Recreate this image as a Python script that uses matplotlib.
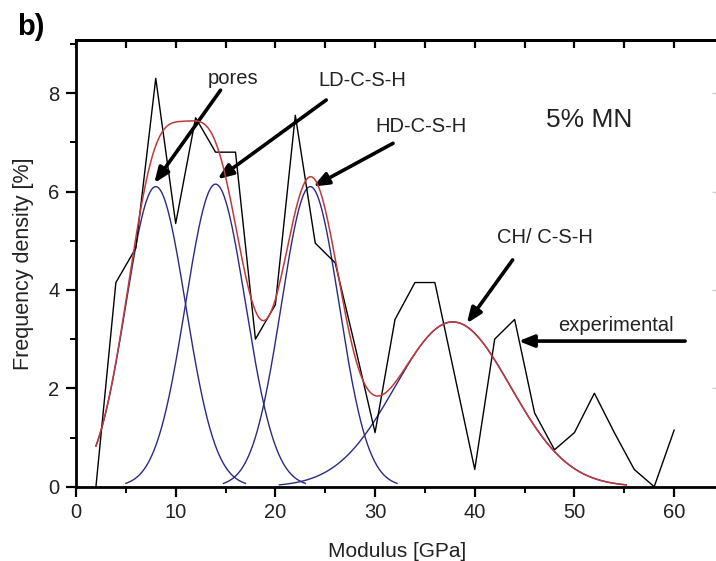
import numpy as np
import matplotlib
matplotlib.use("Agg")
import matplotlib.pyplot as plt
from matplotlib.ticker import MultipleLocator

plt.rcParams['font.family'] = ['Liberation Sans', 'DejaVu Sans']

# Experimental frequency density (black polyline)
modulus_exp = [2, 4, 6, 8, 10, 12, 14, 16, 18, 20, 22, 24, 26, 28, 30,
               32, 34, 36, 38, 40, 42, 44, 46, 48, 50, 52, 54, 56, 58, 60]
density_exp = [0.0, 4.15, 4.85, 8.3, 5.35, 7.5, 6.8, 6.8, 3.0, 3.7, 7.55,
               4.95, 4.55, 2.85, 1.1, 3.4, 4.15, 4.15, 2.25, 0.35, 3.0, 3.4,
               1.5, 0.75, 1.1, 1.9, 1.1, 0.35, 0.0, 1.15]

# Gaussian deconvolution peaks (blue) and their sum (red)
phase_names = ['pores', 'LD-C-S-H', 'HD-C-S-H', 'CH/ C-S-H']
peak_centers = [8.0, 14.0, 23.5, 37.8]
peak_amplitudes = [6.1, 6.15, 6.1, 3.35]
peak_sigmas = [3.0, 3.0, 2.9, 5.8]

x_ticks = [0, 10, 20, 30, 40, 50, 60]
y_ticks = [0, 2, 4, 6, 8]

fig = plt.figure(figsize=(7.16, 5.61), dpi=100)
ax = fig.add_axes([76 / 716, (561 - 486.7) / 561, (719 - 76) / 716, (486.7 - 40) / 561])

txt = '#222222'
blue = '#2a2a85'
red = '#c03a3a'

def gauss(x, c, a, s):
    return a * np.exp(-(x - c) ** 2 / (2 * s ** 2))

x_start = modulus_exp[0]
x_end = max(c + 3 * s for c, s in zip(peak_centers, peak_sigmas))
xs_all = np.linspace(x_start, x_end, 600)
total = np.zeros_like(xs_all)
for c, a, s in zip(peak_centers, peak_amplitudes, peak_sigmas):
    lo = max(x_start, c - 3 * s)
    hi = c + 3 * s
    xs = np.linspace(lo, hi, 300)
    ax.plot(xs, gauss(xs, c, a, s), color=blue, lw=1.0, zorder=2)
    total += gauss(xs_all, c, a, s)

ax.plot(modulus_exp, density_exp, color='black', lw=1.0, zorder=3)
ax.plot(xs_all, total, color=red, lw=1.1, zorder=4)

ax.set_xlim(0, 64.5)
ax.set_ylim(0, 9.08)
ax.set_xticks(x_ticks)
ax.set_yticks(y_ticks)
ax.xaxis.set_minor_locator(MultipleLocator(5))
ax.yaxis.set_minor_locator(MultipleLocator(1))
ax.tick_params(axis='both', which='major', direction='out', length=7, width=1.6,
               labelsize=14.5, labelcolor=txt, pad=5)
ax.tick_params(axis='both', which='minor', direction='out', length=4, width=1.4)
for sp in ax.spines.values():
    sp.set_linewidth(2.0)

# top and right inward ticks
sec_x = ax.secondary_xaxis('top')
sec_x.set_xticks(list(range(0, 65, 5)))
sec_x.tick_params(direction='in', length=6, width=1.6, labeltop=False)
sec_x.spines['top'].set_linewidth(2.0)
sec_y = ax.secondary_yaxis('right')
sec_y.set_yticks(list(range(0, 10, 2)))
sec_y.tick_params(direction='in', length=5, width=1.0, labelright=False, color='#cccccc')

ax.set_xlabel('Modulus [GPa]', fontsize=15, color=txt, labelpad=14)
ax.set_ylabel('Frequency density [%]', fontsize=15.5, color=txt, labelpad=10)

fig.text(17 / 716, 1 - 13 / 561, 'b)', fontsize=21, fontweight='bold', va='top', ha='left')

ax.text(51.45, 7.45, '5% MN', fontsize=19, ha='center', va='center', color=txt)

arrow = dict(arrowstyle='-|>,head_length=0.7,head_width=0.28', lw=2.6, color='black',
             shrinkA=0, shrinkB=0, mutation_scale=13)

label_pos = [(15.7, 8.3), (28.7, 8.25), (34.6, 7.32), (47.0, 5.07)]
tail_pos = [(14.5, 8.06), (25.1, 7.86), (31.8, 6.98), (43.8, 4.61)]
head_pos = [(7.85, 6.17), (14.2, 6.25), (23.8, 6.1), (39.2, 3.32)]
for name, lp, tp, hp in zip(phase_names, label_pos, tail_pos, head_pos):
    ax.text(lp[0], lp[1], name, fontsize=14.5, ha='center', va='center', color=txt)
    ax.annotate('', xy=hp, xytext=tp, arrowprops=arrow)

ax.text(54.2, 3.27, 'experimental', fontsize=14.5, ha='center', va='center', color=txt)
ax.annotate('', xy=(44.4, 2.96), xytext=(61.1, 2.96), arrowprops=arrow)

fig.savefig('out.png', dpi=100)
